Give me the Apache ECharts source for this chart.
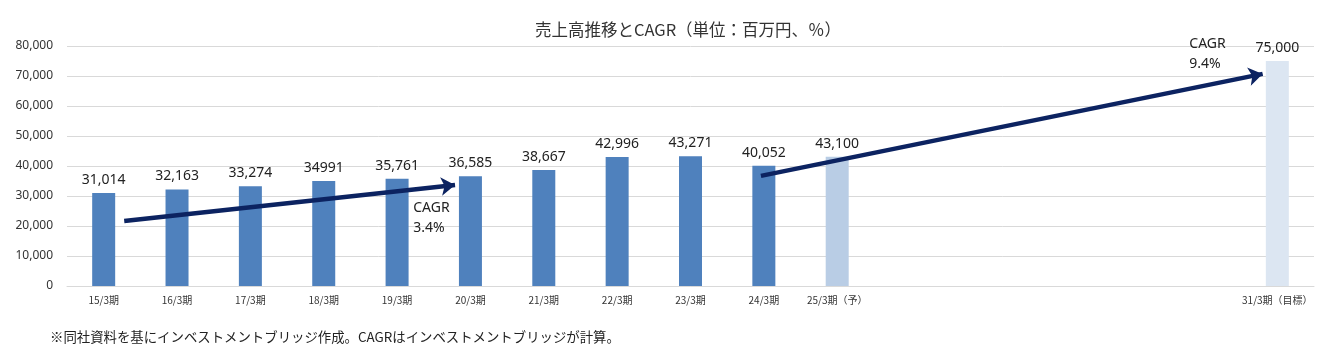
<!DOCTYPE html>
<html><head><meta charset="utf-8">
<script src="https://cdn.jsdelivr.net/npm/echarts@6/dist/echarts.min.js"></script>
<style>html,body{margin:0;padding:0;background:#fff}#c{width:1324px;height:352px}</style>
</head><body><div id="c"></div>
<script>
const categories = ['15/3期','16/3期','17/3期','18/3期','19/3期','20/3期','21/3期','22/3期','23/3期','24/3期','25/3期（予）','','','','','','31/3期（目標）'];
const sales = [31014,32163,33274,34991,35761,36585,38667,42996,43271,40052,43100,null,null,null,null,null,75000];
const salesLabels = ['31,014','32,163','33,274','34991','35,761','36,585','38,667','42,996','43,271','40,052','43,100','','','','','','75,000'];
const kinds = ['actual','actual','actual','actual','actual','actual','actual','actual','actual','actual','forecast','','','','','','target'];
const yTicks = [0,10000,20000,30000,40000,50000,60000,70000,80000];
// arrows: [startIndex, startValue, endIndex, endValue] in category-index / value space
const arrow1 = [0.28, 21700, 4.79, 33700];
const arrow2 = [8.96, 36700, 15.8, 70700];
const cagrNotes = [{x:4.22, y:22700, text:'CAGR\n3.4%'},{x:14.8, y:77300, text:'CAGR\n9.4%'}];
const title = '売上高推移とCAGR（単位：百万円、％）';
const note = '※同社資料を基にインベストメントブリッジ作成。CAGRはインベストメントブリッジが計算。';

const kindColor = {actual:'#4F81BD', forecast:'#B9CDE5', target:'#DCE6F2'};
const chart = echarts.init(document.getElementById('c'));
chart.setOption({
  animation:false,
  title:{text:title,left:683,textAlign:'center',top:16,textStyle:{fontFamily:'Noto Sans CJK JP',fontSize:16.5,fontWeight:'normal',color:'#333'}},
  graphic:[{type:'text',left:50,top:330,style:{text:note,fontFamily:'Noto Sans CJK JP',fontSize:13.4,fill:'#222'}}],
  grid:{left:67,right:10,top:46,bottom:66},
  xAxis:[{type:'category',data:categories,axisTick:{show:false},axisLine:{lineStyle:{color:'#d9d9d9'}},
          axisLabel:{interval:0,fontFamily:'Noto Sans CJK JP',fontSize:10,color:'#333',margin:9}},
         {type:'value',min:-0.5,max:categories.length-0.5,show:false}],
  yAxis:{type:'value',min:0,max:80000,interval:10000,
         axisLabel:{formatter:v=>v.toLocaleString('en-US'),fontFamily:'Noto Sans',fontSize:12,color:'#333',margin:14},
         splitLine:{lineStyle:{color:'#d9d9d9'}},axisLine:{show:false},axisTick:{show:false}},
  series:[
    {type:'bar',barWidth:23,xAxisIndex:0,z:2,
     data:sales.map((v,i)=>({value:v,itemStyle:{color:kindColor[kinds[i]]||'#4F81BD'}})),
     label:{show:true,position:'top',distance:6,fontFamily:'Noto Sans',fontSize:14,color:'#222',
            formatter:p=>salesLabels[p.dataIndex]}},
    {type:'lines',coordinateSystem:'cartesian2d',xAxisIndex:1,yAxisIndex:0,z:10,
     symbol:['none','arrow'],symbolSize:14,
     lineStyle:{color:'#0C2361',width:4.5,opacity:1},
     data:[{coords:[[arrow1[0],arrow1[1]],[arrow1[2],arrow1[3]]]},{coords:[[arrow2[0],arrow2[1]],[arrow2[2],arrow2[3]]]}]},
    {type:'scatter',xAxisIndex:1,yAxisIndex:0,symbolSize:0,z:10,itemStyle:{opacity:1},
     data:cagrNotes.map(n=>({value:[n.x,n.y],label:{formatter:n.text}})),
     label:{show:true,position:'right',distance:0,align:'left',fontFamily:'Noto Sans',fontSize:14,lineHeight:20,color:'#222',opacity:1}}
  ]
});
</script></body></html>
